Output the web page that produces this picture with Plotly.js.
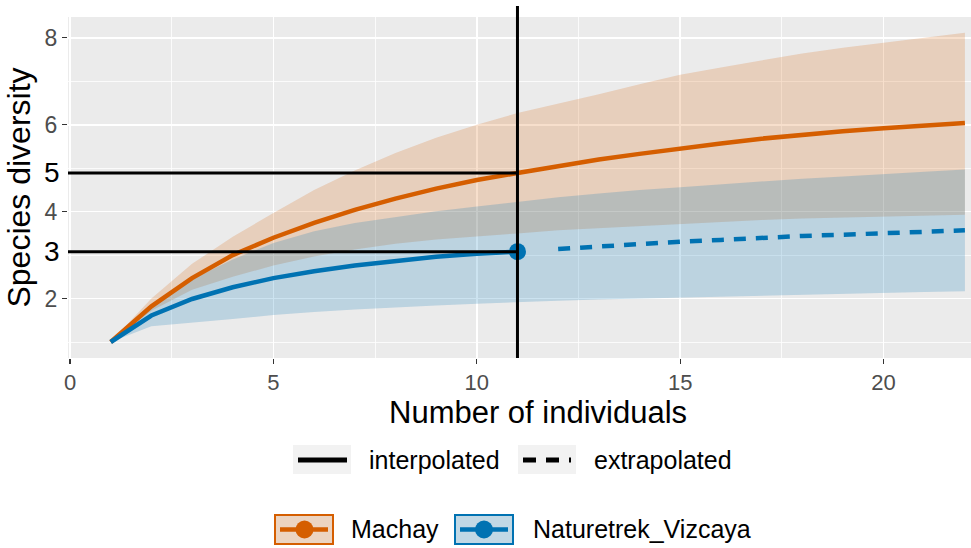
<!DOCTYPE html>
<html>
<head>
<meta charset="utf-8">
<script src="https://cdn.plot.ly/plotly-3.0.1.min.js"></script>
<style>
html,body{margin:0;padding:0;background:#fff;overflow:hidden;}
#chart{width:971px;height:548px;}
</style>
</head>
<body>
<div id="chart"></div>
<script>
// ---- data ----
const sampleSize = [1,2,3,4,5,6,7,8,9,10,11,12,13,14,15,16,17,18,19,20,21,22];

const machayQD  = [1.00,1.82,2.47,3.00,3.40,3.74,4.04,4.30,4.53,4.73,4.89,5.05,5.20,5.33,5.46,5.57,5.68,5.77,5.85,5.92,5.98,6.04];
const machayUCL = [1.00,2.00,2.80,3.42,3.97,4.50,4.95,5.35,5.70,6.00,6.27,6.48,6.70,6.93,7.15,7.32,7.48,7.64,7.77,7.89,8.01,8.12];
const machayLCL = [1.00,1.72,2.20,2.50,2.76,2.97,3.13,3.26,3.36,3.43,3.50,3.57,3.62,3.67,3.72,3.76,3.81,3.84,3.87,3.89,3.91,3.93];

const natureSizeInterp = [1,2,3,4,5,6,7,8,9,10,11];
const natureQDInterp   = [1.00,1.61,1.99,2.26,2.47,2.63,2.76,2.87,2.96,3.03,3.08];
const natureSizeExtrap = [12,13,14,15,16,17,18,19,20,21,22];
const natureQDExtrap   = [3.14,3.20,3.26,3.31,3.35,3.40,3.44,3.47,3.51,3.54,3.57];
const natureUCL = [1.00,1.85,2.45,2.90,3.28,3.55,3.74,3.88,4.01,4.12,4.23,4.33,4.42,4.50,4.56,4.63,4.70,4.76,4.81,4.87,4.92,4.97];
const natureLCL = [1.00,1.36,1.44,1.53,1.62,1.69,1.75,1.80,1.84,1.88,1.92,1.95,1.98,2.00,2.03,2.05,2.07,2.09,2.11,2.13,2.15,2.17];

const observedSize = 11;
const refLabels = ['5','3'];
const xTickVals = [0,5,10,15,20];
const yTickVals = [2,4,6,8];
const methodLabels = ['interpolated','extrapolated'];
const siteNames = ['Machay','Naturetrek_Vizcaya'];
const xTitle = 'Number of individuals';
const yTitle = 'Species diversity';

// ---- styling ----
const ORANGE = '#D55E00', BLUE = '#0072B2';
const ORANGE_FILL = 'rgba(213,94,0,0.2)', BLUE_FILL = 'rgba(0,114,178,0.2)';
const FONT = 'Liberation Sans, Arial, sans-serif';

const W = 971, H = 548;
const M = {l: 68, r: 0, t: 17, b: 190};
const PW = W - M.l - M.r, PH = H - M.t - M.b;
const px = v => (v - M.l) / PW;        // pixel x -> paper
const py = v => (H - M.b - v) / PH;    // pixel y -> paper
const XR = [-0.05, 22.15];

function band(xs, up, lo) {
  return {
    x: xs.concat(xs.slice().reverse()),
    y: up.concat(lo.slice().reverse())
  };
}
const mb = band(sampleSize, machayUCL, machayLCL);
const nb = band(sampleSize, natureUCL, natureLCL);

const observedQD = natureQDInterp[natureSizeInterp.indexOf(observedSize)];
const machayAtObs = machayQD[sampleSize.indexOf(observedSize)];

const traces = [
  {x: mb.x, y: mb.y, type: 'scatter', mode: 'lines', fill: 'toself', fillcolor: ORANGE_FILL,
   line: {width: 0}, hoverinfo: 'skip', showlegend: false},
  {x: nb.x, y: nb.y, type: 'scatter', mode: 'lines', fill: 'toself', fillcolor: BLUE_FILL,
   line: {width: 0}, hoverinfo: 'skip', showlegend: false},
  {x: sampleSize, y: machayQD, type: 'scatter', mode: 'lines', name: siteNames[0],
   line: {color: ORANGE, width: 4.5}, showlegend: false},
  {x: natureSizeInterp, y: natureQDInterp, type: 'scatter', mode: 'lines', name: siteNames[1],
   line: {color: BLUE, width: 4.5}, showlegend: false},
  {x: natureSizeExtrap, y: natureQDExtrap, type: 'scatter', mode: 'lines', name: siteNames[1] + ' (extrapolated)',
   line: {color: BLUE, width: 4.5, dash: '12px,10px'}, showlegend: false},
  {x: [observedSize], y: [observedQD], type: 'scatter', mode: 'markers', name: 'observed',
   marker: {color: BLUE, size: 17}, showlegend: false}
];

const xPaper = v => (v - XR[0]) / (XR[1] - XR[0]);

const shapes = [
  // reference lines
  {type: 'line', xref: 'x', yref: 'paper', x0: observedSize, x1: observedSize, y0: 0, y1: py(6),
   line: {color: '#000', width: 3}, layer: 'above'},
  {type: 'line', xref: 'paper', yref: 'y', x0: 0, x1: xPaper(observedSize) + 0.001, y0: machayAtObs, y1: machayAtObs,
   line: {color: '#000', width: 3}, layer: 'above'},
  {type: 'line', xref: 'paper', yref: 'y', x0: 0, x1: xPaper(observedSize) + 0.001, y0: observedQD, y1: observedQD,
   line: {color: '#000', width: 3}, layer: 'above'},
  // legend row 1 keys
  {type: 'rect', xref: 'paper', yref: 'paper', x0: px(293), x1: px(351), y0: py(474), y1: py(445),
   fillcolor: '#F2F2F2', line: {width: 0}},
  {type: 'line', xref: 'paper', yref: 'paper', x0: px(298), x1: px(347), y0: py(460), y1: py(460),
   line: {color: '#000', width: 5}},
  {type: 'rect', xref: 'paper', yref: 'paper', x0: px(518), x1: px(576), y0: py(474), y1: py(445),
   fillcolor: '#F2F2F2', line: {width: 0}},
  {type: 'line', xref: 'paper', yref: 'paper', x0: px(523), x1: px(571), y0: py(460), y1: py(460),
   line: {color: '#000', width: 5, dash: '13px,10px'}},
  // legend row 2 keys
  {type: 'rect', xref: 'paper', yref: 'paper', x0: px(275), x1: px(333), y0: py(544), y1: py(515),
   fillcolor: '#F2F2F2', line: {width: 0}},
  {type: 'rect', xref: 'paper', yref: 'paper', x0: px(275), x1: px(333), y0: py(544), y1: py(515),
   fillcolor: ORANGE_FILL, line: {color: ORANGE, width: 2}},
  {type: 'line', xref: 'paper', yref: 'paper', x0: px(280), x1: px(328), y0: py(529.5), y1: py(529.5),
   line: {color: ORANGE, width: 4.5}},
  {type: 'circle', xref: 'paper', yref: 'paper', x0: px(295.5), x1: px(313.5), y0: py(538.5), y1: py(520.5),
   fillcolor: ORANGE, line: {width: 0}},
  {type: 'rect', xref: 'paper', yref: 'paper', x0: px(455), x1: px(513), y0: py(544), y1: py(515),
   fillcolor: '#F2F2F2', line: {width: 0}},
  {type: 'rect', xref: 'paper', yref: 'paper', x0: px(455), x1: px(513), y0: py(544), y1: py(515),
   fillcolor: BLUE_FILL, line: {color: BLUE, width: 2}},
  {type: 'line', xref: 'paper', yref: 'paper', x0: px(460), x1: px(508), y0: py(529.5), y1: py(529.5),
   line: {color: BLUE, width: 4.5}},
  {type: 'circle', xref: 'paper', yref: 'paper', x0: px(475), x1: px(493), y0: py(538.5), y1: py(520.5),
   fillcolor: BLUE, line: {width: 0}}
];

const annotations = [
  {text: refLabels[0], xref: 'paper', yref: 'y', x: px(62), y: machayAtObs, xanchor: 'right', yanchor: 'middle',
   showarrow: false, font: {family: FONT, size: 28, color: '#000'}},
  {text: refLabels[1], xref: 'paper', yref: 'y', x: px(62), y: observedQD, xanchor: 'right', yanchor: 'middle',
   showarrow: false, font: {family: FONT, size: 28, color: '#000'}},
  {text: xTitle, xref: 'paper', yref: 'paper', x: px(538), y: py(412), xanchor: 'center', yanchor: 'middle',
   showarrow: false, font: {family: FONT, size: 31, color: '#000'}},
  {text: methodLabels[0], xref: 'paper', yref: 'paper', x: px(367), y: py(460), xanchor: 'left', yanchor: 'middle',
   showarrow: false, font: {family: FONT, size: 25, color: '#000'}},
  {text: methodLabels[1], xref: 'paper', yref: 'paper', x: px(592), y: py(460), xanchor: 'left', yanchor: 'middle',
   showarrow: false, font: {family: FONT, size: 25, color: '#000'}},
  {text: siteNames[0], xref: 'paper', yref: 'paper', x: px(349), y: py(529), xanchor: 'left', yanchor: 'middle',
   showarrow: false, font: {family: FONT, size: 25, color: '#000'}},
  {text: siteNames[1], xref: 'paper', yref: 'paper', x: px(531), y: py(529), xanchor: 'left', yanchor: 'middle',
   showarrow: false, font: {family: FONT, size: 25, color: '#000'}}
];

const layout = {
  width: W, height: H,
  margin: M,
  paper_bgcolor: '#FFFFFF',
  plot_bgcolor: '#EBEBEB',
  showlegend: false,
  font: {family: FONT, color: '#000'},
  xaxis: {
    range: XR,
    tickvals: xTickVals,
    ticktext: xTickVals.map(String),
    ticks: 'outside', ticklen: 5, tickwidth: 1.2, tickcolor: '#333333',
    tickfont: {family: FONT, size: 22, color: '#4D4D4D'},
    showgrid: true, gridcolor: '#FFFFFF', gridwidth: 1.6,
    minor: {dtick: 2.5, tick0: 0, showgrid: true, gridcolor: '#FFFFFF', gridwidth: 0.8, ticks: ''},
    zeroline: false, showline: false, fixedrange: true
  },
  yaxis: {
    range: [0.632, 8.48],
    tickvals: yTickVals,
    ticktext: yTickVals.map(String),
    ticks: 'outside', ticklen: 5, tickwidth: 1.2, tickcolor: '#333333',
    tickfont: {family: FONT, size: 23, color: '#4D4D4D'},
    showgrid: true, gridcolor: '#FFFFFF', gridwidth: 1.6,
    minor: {dtick: 1, tick0: 0, showgrid: true, gridcolor: '#FFFFFF', gridwidth: 0.8, ticks: ''},
    zeroline: false, showline: false, fixedrange: true,
    title: {text: yTitle, font: {family: FONT, size: 32, color: '#000'}, standoff: 4}
  },
  shapes: shapes,
  annotations: annotations
};

Plotly.newPlot('chart', traces, layout, {displayModeBar: false, staticPlot: true});
</script>
</body>
</html>
